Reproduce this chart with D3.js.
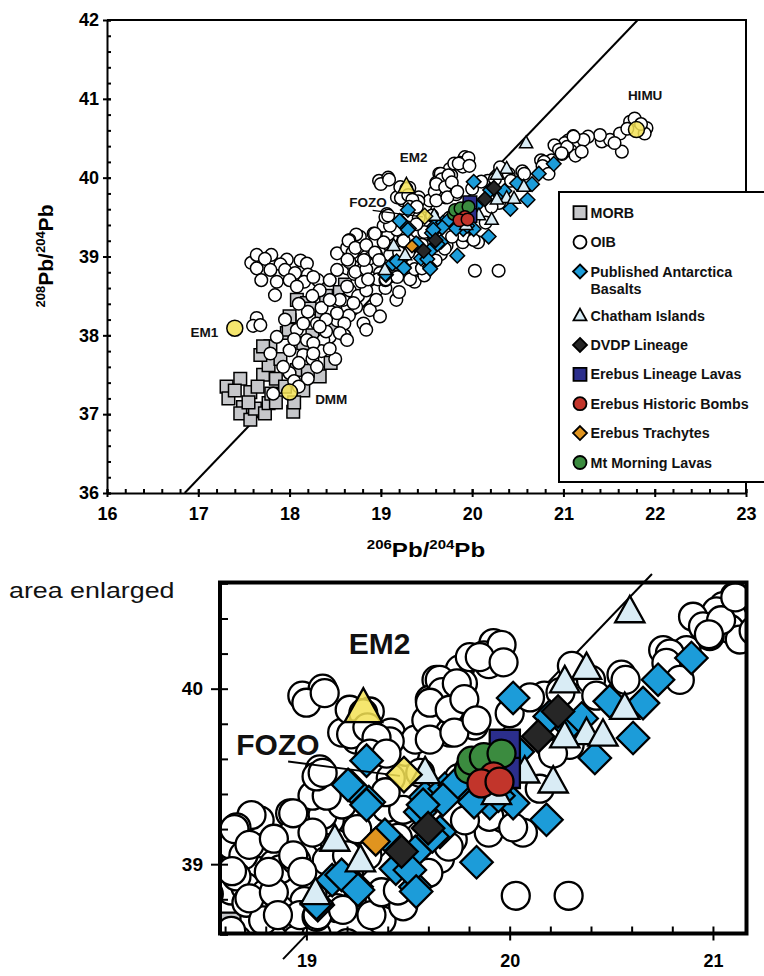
<!DOCTYPE html>
<html>
<head>
<meta charset="utf-8">
<script src="https://cdn.jsdelivr.net/npm/d3@7"></script>
<style>
  body { margin: 0; background: #fff; }
  svg { font-family: "Liberation Sans", Arial, Helvetica, sans-serif; }
</style>
</head>
<body>
<svg id="chart" width="764" height="976"></svg>
<script>
// ---- data (206Pb/204Pb, 208Pb/204Pb) ----
const xTicksMain = [16, 17, 18, 19, 20, 21, 22, 23]
const yTicksMain = [36, 37, 38, 39, 40, 41, 42]
const xTicksZoom = [19, 20, 21]
const yTicksZoom = [39, 40]

// Northern Hemisphere Reference Line
const nhrlSlope = 1.209
const nhrlIntercept = 15.627

const morb = [
  [17.31,37.35],[17.46,37.45],[17.57,37.28],[17.33,37.20],[17.49,37.09],[17.46,37.01],[17.57,36.93],
  [17.62,37.07],[17.73,37.01],[17.77,37.14],[18.04,37.03],[17.80,37.26],[17.71,37.50],[17.77,37.62],
  [17.68,37.75],[18.33,37.48],[18.00,38.19],[18.08,38.45],[18.19,38.41],[17.97,38.03],[17.79,37.86],
  [18.08,37.56],[18.22,38.34],[18.00,38.24],[17.99,38.07],[17.71,37.86],[18.607,38.644],[17.90,37.70],
  [18.20,37.55],[18.30,37.85],[18.45,38.10],[18.50,38.35],[17.85,37.45],[17.95,37.35],[18.15,37.30],
  [17.40,37.30],[18.15,37.90],[18.35,38.25],[18.45,37.65],[18.25,38.00],[17.85,37.15],[18.05,37.15],
  [17.65,37.35],[17.55,37.15],[18.55,38.55],[18.40,38.50]
]

const oib = [
  [17.58,38.92],[17.64,39.02],[17.80,39.02],[17.73,38.97],[17.97,38.96],[17.90,38.90],[18.12,38.95],
  [18.19,38.91],[17.64,38.85],[17.79,38.83],[17.95,38.83],[18.06,38.79],[18.20,38.77],[18.31,38.70],
  [17.69,38.70],[17.86,38.68],[18.00,38.70],[18.16,38.68],[18.08,38.62],[17.84,38.51],
  [17.64,38.22],[17.60,38.12],[17.68,38.13],
  [18.26,38.74],[18.33,38.57],[18.44,38.70],[18.63,38.85],[18.77,38.96],[18.95,39.04],[19.03,38.83],
  [18.81,38.70],[18.59,38.45],[18.73,38.36],[18.52,38.19],[18.30,38.15],[18.44,37.98],[18.19,37.94],
  [18.08,38.07],[17.86,37.98],[18.00,37.81],[18.15,37.75],[17.79,37.77],[18.37,37.94],[18.66,38.57],
  [18.95,38.57],[18.88,38.32],[18.81,38.15],[18.00,37.52],[17.82,37.26],[17.93,37.60],[18.05,37.42],
  [18.10,37.65],[18.25,37.70],[18.35,37.80],[18.60,38.00],[18.45,38.30],[18.65,38.25],[18.95,38.45],
  [19.05,38.60],[18.20,38.30],[18.10,38.40],[17.95,38.20],
  [18.35,38.35],[18.25,38.50],[18.55,38.45],[18.40,38.05],[18.50,37.70],[18.30,37.60],[18.20,37.45],
  [18.10,37.35],[18.40,38.20],[18.60,38.15],[18.75,38.50],[18.85,38.70],[18.15,38.15],[18.05,37.95],
  [18.52,39.04],[18.70,39.12],[18.77,39.25],[18.99,39.29],[18.84,39.00],[18.99,39.04],[19.14,39.12],
  [18.70,38.87],[18.52,38.83],[18.99,38.79],[18.63,38.62],[18.84,38.57],[18.44,38.45],[18.70,38.41],
  [18.52,38.28],[18.33,38.11],[18.55,38.03],[18.26,37.90],[19.36,38.79],[19.21,38.96],
  [19.37,38.68],[19.17,38.45],[18.99,38.24],[18.84,38.07],[18.63,37.94],[18.44,37.83],[18.26,37.77],
  [19.20,38.55],
  [18.73,39.28],[18.656,39.21],[18.63,39.11],[18.69,39.05],[18.656,38.93],[18.705,38.78],[18.80,38.835],
  [18.87,38.97],[18.92,39.29],[19.017,39.22],[18.92,39.16],[18.95,39.02],[18.87,38.74],[18.787,38.68],
  [18.968,38.71],[19.05,38.70],[19.148,38.75],[19.10,39.02],[19.115,39.25],[19.394,39.32],[19.476,39.31],
  [19.066,39.54],[18.646,39.20],[18.72,39.11],[18.634,38.96],[18.72,38.805],[18.84,38.84],[18.84,39.145],
  [18.935,39.05],[18.98,38.956],[19.08,39.28],[19.175,39.34],[19.03,39.18],[18.815,38.956],[18.86,38.71],
  [19.055,38.71],[19.32,38.71],[19.37,38.84],[19.03,39.39],[18.935,39.29],[19.10,39.39],[19.05,39.50],
  [19.18,38.74],[19.476,38.76],[19.59,39.02],[19.72,39.14],
  [19.415,39.49],[19.39,39.41],[19.487,39.64],[19.56,39.52],[19.75,39.49],[19.897,39.18],[20.065,39.18],
  [19.97,39.26],[19.657,39.03],[19.90,39.27],[20.017,39.21],[19.45,39.15],[19.70,39.10],[19.78,39.25],
  [19.60,38.95],[19.45,38.85],[19.30,39.05],[19.20,39.05],[19.25,39.20],
  [18.98,39.96],[19.08,40.00],[19.27,39.86],[19.176,39.75],[19.32,39.68],[19.415,39.75],[19.536,39.71],
  [19.08,39.52],[19.00,39.92],[19.09,39.975],[19.213,39.88],[19.312,39.87],[19.246,39.71],[19.28,39.86],
  [19.22,39.74],[19.30,39.78],[19.41,39.70],
  [19.64,40.05],[19.755,40.11],[19.77,40.03],[19.607,39.937],[19.672,39.86],[19.59,39.82],[19.705,39.75],
  [19.607,39.71],[19.804,40.18],[19.345,39.72],[19.312,39.63],[19.394,39.63],
  [19.92,40.26],[19.873,40.19],[19.945,40.20],[19.897,40.14],[19.656,40.05],[19.668,39.98],[19.74,40.03],
  [19.608,39.92],[19.705,39.88],[19.777,39.94],[19.825,39.79],[19.728,39.75],[19.837,39.82],[20.00,39.86],
  [19.96,40.25],[19.853,40.18],[19.97,40.15],[20.17,39.96],[20.345,40.10],[20.197,39.71],[20.295,39.68],
  [20.213,39.63],[20.148,39.43],[20.55,40.08],[20.755,40.22],[20.10,39.95],[20.25,39.98],[20.40,40.05],
  [20.306,40.13],[20.426,39.96],[20.57,40.05],
  [21.107,40.527],[21.05,40.47],[21.017,40.44],[21.116,40.39],[21.083,40.34],[21.132,40.28],[20.902,40.41],
  [20.951,40.355],[20.984,40.30],[20.87,40.22],[20.788,40.20],[20.771,40.147],[20.837,40.05],
  [20.03,38.82],[20.29,38.82],
  [21.42,40.46],[21.51,40.48],[21.62,40.56],[21.73,40.71],[21.78,40.75],[21.91,40.63],[21.89,40.56],
  [21.64,40.33],[21.56,40.44],[21.40,40.54],[21.27,40.52],[21.22,40.48],[21.20,40.33],[21.04,40.39],
  [21.11,40.52],[20.98,40.31],[21.70,40.62],[21.85,40.68]
]

const antarctica = [
  [20.894,40.175],[20.73,40.051],[20.656,39.918],[20.492,39.928],[20.607,39.719],[20.419,39.605],
  [20.017,39.947],[20.181,39.253],[20.017,39.348],[19.902,39.348],[20.29,39.79],[20.197,39.842],
  [20.354,39.83],[20.04,39.64],[19.296,39.59],[19.223,39.439],[19.307,39.354],[19.584,39.382],
  [19.681,39.43],[19.777,39.439],[19.825,39.354],[19.73,39.45],[19.56,39.297],[19.657,39.184],
  [19.837,39.011],[19.44,38.975],[19.536,39.07],[19.247,38.871],[19.536,38.871],[19.127,38.909],
  [19.056,38.767],[19.205,39.452],[19.296,39.338],[19.173,38.939],[19.254,38.853],[19.05,38.778],
  [19.386,39.167],[19.509,38.967],[19.54,38.844],[19.62,39.158],[19.672,39.367],[19.574,39.338],
  [19.945,39.39]
]

const chatham = [
  [20.591,40.441],[20.378,40.118],[20.271,40.042],[20.566,39.89],[20.378,39.747],[20.459,39.738],
  [20.271,39.728],[20.214,39.471],[20.074,39.528],[19.935,39.405],[19.584,39.524],[19.14,39.139],
  [19.266,39.022],[19.045,38.835]
]

const dvdp = [[19.468,39.072],[19.599,39.205],[20.238,39.870],[20.140,39.728]]
const erebusLineage = [[19.976,39.68],[19.976,39.52]]
const mtMorning = [[19.80,39.54],[19.813,39.59],[19.873,39.61],[19.96,39.63]]
const erebusBombs = [[19.921,39.50],[19.861,39.46],[19.95,39.47]]
const erebusTrachytes = [[19.341,39.129]]

const endMemberNames = ["EM1", "DMM", "HIMU", "EM2", "FOZO"]
const endMemberX = [17.40, 18.00, 21.80, 19.28, 19.48]
const endMemberY = [38.09, 37.28, 40.61, 39.89, 39.51]
const endLabelX = [17.22, 18.28, 21.895, 19.36, 18.86]
const endLabelY = [38.04, 37.19, 41.04, 40.255, 39.68]
const fozoLeader = [[18.91, 39.585], [19.46, 39.503]]

const legendLines = [["MORB"], ["OIB"], ["Published Antarctica", "Basalts"], ["Chatham Islands"],
  ["DVDP Lineage"], ["Erebus Lineage Lavas"], ["Erebus Historic Bombs"], ["Erebus Trachytes"], ["Mt Morning Lavas"]]

// ---- drawing ----
const FONT = '"Liberation Sans", Arial, Helvetica, sans-serif'
const svg = d3.select("#chart")

function shapePath(shape, s) {
  if (shape == "circle") return `M${s},0A${s},${s} 0 1,1 ${-s},0A${s},${s} 0 1,1 ${s},0Z`
  if (shape == "square") return `M${-s},${-s}H${s}V${s}H${-s}Z`
  if (shape == "diamond") return `M0,${-s}L${s},0L0,${s}L${-s},0Z`
  return `M0,${-s * 1.05}L${s},${s * 0.75}L${-s},${s * 0.75}Z`
}

const style = {
  morb:     {shape: "square",   size: 6.3, fill: "#c6c7ca"},
  oib:      {shape: "circle",   size: 6.3, fill: "#ffffff"},
  ant:      {shape: "diamond",  size: 7.3, fill: "#1c9cd9"},
  chatham:  {shape: "triangle", size: 6.6, fill: "#d9ecf5"},
  dvdp:     {shape: "diamond",  size: 7.3, fill: "#262626"},
  lineage:  {shape: "square",   size: 6.8, fill: "#2b2e8c"},
  bombs:    {shape: "circle",   size: 6.3, fill: "#c2352b"},
  trach:    {shape: "diamond",  size: 6.3, fill: "#e0941f"},
  morning:  {shape: "circle",   size: 6.3, fill: "#3b8b3f"}
}
const legendStyles = ["morb", "oib", "ant", "chatham", "dvdp", "lineage", "bombs", "trach", "morning"]
const endShapes = ["circle", "circle", "circle", "triangle", "diamond"]
const endSizes = [8, 8, 8, 8.5, 8]
const endAnchors = ["end", "start", "middle", "middle", "middle"]

function drawPanel(g, x, y, k, sw, lineX, clipId) {
  // reference line (under the symbols)
  g.append("line")
    .attr("x1", x(lineX[0])).attr("y1", y(nhrlSlope * lineX[0] + nhrlIntercept))
    .attr("x2", x(lineX[1])).attr("y2", y(nhrlSlope * lineX[1] + nhrlIntercept))
    .attr("stroke", "#000").attr("stroke-width", 2)

  let m = g.append("g")
  if (clipId) m.attr("clip-path", `url(#${clipId})`)

  function series(data, st, opacity) {
    m.append("g").selectAll("path").data(data).join("path")
      .attr("transform", d => `translate(${x(d[0])},${y(d[1])})`)
      .attr("d", shapePath(st.shape, st.size * k))
      .attr("fill", st.fill).attr("fill-opacity", opacity || 1)
      .attr("stroke", "#000").attr("stroke-width", sw)
  }
  series(morb, style.morb)
  series(oib, style.oib)
  series(antarctica, style.ant)
  series(chatham, style.chatham)
  series(dvdp, style.dvdp)
  series(erebusTrachytes, style.trach)
  series(erebusLineage, style.lineage)
  series(mtMorning, style.morning)
  series(erebusBombs, style.bombs)

  // end members
  m.append("line")
    .attr("x1", x(fozoLeader[0][0])).attr("y1", y(fozoLeader[0][1]))
    .attr("x2", x(fozoLeader[1][0])).attr("y2", y(fozoLeader[1][1]))
    .attr("stroke", "#000").attr("stroke-width", sw * 0.8)
  endMemberNames.forEach((name, i) => {
    m.append("path")
      .attr("transform", `translate(${x(endMemberX[i])},${y(endMemberY[i])})`)
      .attr("d", shapePath(endShapes[i], endSizes[i] * k))
      .attr("fill", "#f3e255").attr("fill-opacity", 0.85)
      .attr("stroke", "#000").attr("stroke-width", sw)
    m.append("text")
      .attr("x", x(endLabelX[i])).attr("y", y(endLabelY[i]))
      .attr("text-anchor", endAnchors[i]).attr("dominant-baseline", "central")
      .attr("font-size", 13.5 * k).attr("font-weight", "bold").attr("fill", "#111")
      .text(name)
  })
}

function styleAxis(g, size) {
  g.attr("font-family", FONT).attr("font-size", size).attr("font-weight", "bold")
  g.selectAll(".domain").attr("stroke-width", 2)
  g.selectAll(".tick line").attr("stroke-width", 2)
  g.selectAll("text").attr("fill", "#000")
}

// minor ticks: no domain, no empty labels
function minorAxis(g) {
  g.select(".domain").remove()
  g.selectAll(".tick text").remove()
  g.selectAll(".tick line").attr("stroke-width", 2)
}

function isoTitle(t, size, a, b) {
  t.append("tspan").attr("font-size", size * 0.62).attr("dy", -size * 0.36).text(a)
  t.append("tspan").attr("font-size", size).attr("dy", size * 0.36).text("Pb/")
  t.append("tspan").attr("font-size", size * 0.62).attr("dy", -size * 0.36).text(b)
  t.append("tspan").attr("font-size", size).attr("dy", size * 0.36).text("Pb")
}

// ===== main plot =====
const x = d3.scaleLinear().domain([16, 23]).range([107, 746])
const y = d3.scaleLinear().domain([36, 42]).range([493, 20])

const gMain = svg.append("g")
drawPanel(gMain, x, y, 1, 1.5,
  [(36 - nhrlIntercept) / nhrlSlope, (42 - nhrlIntercept) / nhrlSlope], null)

svg.append("path").attr("d", `M${x(16)},${y(42)}H${x(23)}V${y(36)}`)
  .attr("fill", "none").attr("stroke", "#000").attr("stroke-width", 2)

let ax = svg.append("g").attr("transform", `translate(0,${y(36)})`)
  .call(d3.axisBottom(x).tickValues(xTicksMain).tickSizeInner(4).tickSizeOuter(0)
    .tickPadding(10).tickFormat(d3.format("d")))
ax.selectAll(".tick line").attr("y1", -4)
styleAxis(ax, 18)
svg.append("g").attr("transform", `translate(0,${y(36)})`)
  .call(d3.axisBottom(x).tickValues(d3.range(16, 23.001, 0.2)).tickSizeInner(-4).tickSizeOuter(0))
  .call(minorAxis)

let ay = svg.append("g").attr("transform", `translate(${x(16)},0)`)
  .call(d3.axisLeft(y).tickValues(yTicksMain).tickSizeInner(4).tickSizeOuter(0)
    .tickPadding(4).tickFormat(d3.format("d")))
ay.selectAll(".tick line").attr("x1", 4)
styleAxis(ay, 18)
svg.append("g").attr("transform", `translate(${x(16)},0)`)
  .call(d3.axisLeft(y).tickValues(d3.range(36, 42.001, 0.2)).tickSizeInner(-4).tickSizeOuter(0))
  .call(minorAxis)

// axis titles
let xt = svg.append("text").attr("transform", "translate(426,557) scale(1.15,1)")
  .attr("text-anchor", "middle").attr("font-weight", "bold").attr("font-family", FONT)
isoTitle(xt, 21, "206", "204")
let yt = svg.append("text").attr("transform", "translate(53,256) rotate(-90)")
  .attr("text-anchor", "middle").attr("font-weight", "bold").attr("font-family", FONT)
isoTitle(yt, 21, "208", "204")

// legend
const lg = svg.append("g")
lg.append("rect").attr("x", 559).attr("y", 192).attr("width", 220).attr("height", 290)
  .attr("fill", "#fff").attr("stroke", "#000").attr("stroke-width", 2)
legendLines.forEach((lines, i) => {
  let ly = 212.7 + 29.4 * i + (i >= 3 ? 14.6 : 0)
  let st = style[legendStyles[i]]
  lg.append("path").attr("transform", `translate(580,${ly})`)
    .attr("d", shapePath(st.shape, st.shape == "diamond" ? 7 : 6.5))
    .attr("fill", st.fill).attr("stroke", "#000").attr("stroke-width", 1.8)
  lines.forEach((s, j) => {
    lg.append("text").attr("x", 590.5).attr("y", ly + j * 17.5)
      .attr("dominant-baseline", "central").attr("font-size", 14.3).attr("font-weight", "bold")
      .attr("fill", "#111").text(s)
  })
})

// ===== enlarged plot =====
svg.append("text").attr("transform", "translate(9,598) scale(1.22,1)")
  .attr("font-size", 22).attr("fill", "#111").text("area enlarged")

const xz = d3.scaleLinear().domain([18.575, 21.165]).range([220, 746.5])
const yz = d3.scaleLinear().domain([38.605, 40.605]).range([933.5, 582.5])

svg.append("defs").append("clipPath").attr("id", "clipZoom")
  .append("rect").attr("x", 220).attr("y", 582.5).attr("width", 526.5).attr("height", 351)

const gZoom = svg.append("g")
drawPanel(gZoom, xz, yz, 2.22, 2.3, [18.885, 20.70], "clipZoom")

let zx = svg.append("g").attr("transform", `translate(0,933.5)`)
  .call(d3.axisBottom(xz).tickValues(xTicksZoom).tickSizeInner(7).tickSizeOuter(0)
    .tickPadding(14).tickFormat(d3.format("d")))
zx.select(".domain").remove()
styleAxis(zx, 18)
svg.append("g").attr("transform", `translate(0,933.5)`)
  .call(d3.axisBottom(xz).tickValues(d3.range(18.6, 21.17, 0.2)).tickSizeInner(-7).tickSizeOuter(0))
  .call(minorAxis)

let zy = svg.append("g").attr("transform", `translate(220,0)`)
  .call(d3.axisLeft(yz).tickValues(yTicksZoom).tickSizeInner(9).tickSizeOuter(0)
    .tickPadding(8).tickFormat(d3.format("d")))
zy.select(".domain").remove()
styleAxis(zy, 19)
svg.append("g").attr("transform", `translate(220,0)`)
  .call(d3.axisLeft(yz).tickValues(d3.range(38.6, 40.61, 0.2)).tickSizeInner(-8).tickSizeOuter(0))
  .call(minorAxis)

svg.append("rect").attr("x", 220).attr("y", 582.5).attr("width", 526.5).attr("height", 351)
  .attr("fill", "none").attr("stroke", "#000").attr("stroke-width", 4)
</script>
</body>
</html>
